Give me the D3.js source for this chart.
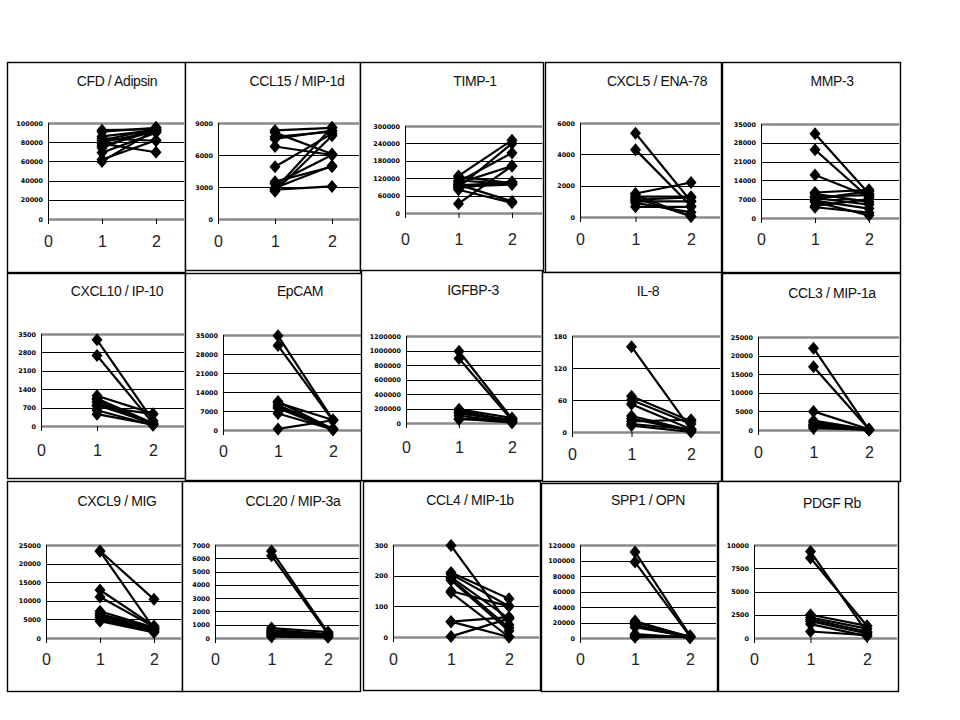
<!DOCTYPE html>
<html>
<head>
<meta charset="utf-8">
<script src="https://cdn.jsdelivr.net/npm/d3@7"></script>
<style>
  html, body { margin: 0; padding: 0; background: #fff; }
  svg { display: block; }
</style>
</head>
<body>
<svg id="chart" width="960" height="720"></svg>
<script>
// ---------------- DATA ----------------
const titles = ["CFD / Adipsin", "CCL15 / MIP-1d", "TIMP-1", "CXCL5 / ENA-78", "MMP-3",
  "CXCL10 / IP-10", "EpCAM", "IGFBP-3", "IL-8", "CCL3 / MIP-1a",
  "CXCL9 / MIG", "CCL20 / MIP-3a", "CCL4 / MIP-1b", "SPP1 / OPN", "PDGF Rb"];

const yMax  = [100000, 9000, 300000, 6000, 35000, 3500, 35000, 1200000, 180, 25000, 25000, 7000, 300, 120000, 10000];
const yStep = [20000, 3000, 60000, 2000, 7000, 700, 7000, 200000, 60, 5000, 5000, 1000, 100, 20000, 2500];

const xTicks = [0, 1, 2];

// value of each subject at time point 1
const time1 = [
  [92500, 91000, 84000, 82000, 80000, 78500, 76000, 74000, 69000, 62000, 60000, 86000],
  [8300, 8100, 7700, 6800, 4900, 3500, 3300, 2800, 2600, 2750, 2900, 7500],
  [128000, 125000, 108000, 103000, 98000, 95000, 91000, 86000, 80000, 32000, 112000, 88000],
  [5350, 4300, 1500, 1300, 1200, 1100, 1000, 650, 1400, 900],
  [31400, 25400, 16000, 9500, 9000, 8000, 7500, 7000, 6500, 6000, 4500, 4000],
  [3280, 2680, 1150, 1050, 1000, 900, 800, 760, 600, 450],
  [34700, 31100, 10500, 10000, 9200, 8500, 8000, 6100, 400],
  [990000, 890000, 190000, 170000, 150000, 130000, 100000, 60000, 50000],
  [160, 67, 60, 52, 30, 25, 20, 15, 12],
  [22000, 17000, 5000, 2500, 2000, 1500, 1200, 800, 500],
  [23400, 23300, 12900, 11000, 7200, 6500, 6000, 5500, 5000, 4500],
  [6550, 6200, 750, 600, 500, 400, 300, 200, 100],
  [298, 210, 205, 195, 190, 185, 150, 145, 50, 50, 2],
  [111000, 98000, 22000, 20000, 17000, 14000, 5000, 3000, 1000],
  [9300, 8600, 2500, 2200, 2000, 1800, 1500, 700]
];
// value of each subject at time point 2
const time2 = [
  [93500, 95000, 81500, 94000, 91000, 69500, 92000, 95500, 90000, 82000, 93000, 92500],
  [8550, 6100, 8200, 6000, 8000, 4900, 6000, 8600, 7800, 3050, 5000, 8300],
  [251000, 103000, 207000, 162000, 40000, 105000, 98000, 108000, 35000, 162000, 100000, 240000],
  [1000, 700, 2200, 1300, 50, 1250, 1000, 650, 30, 300],
  [9000, 7500, 8000, 10500, 6000, 8500, 5000, 10000, 3500, 1000, 7000, 2000],
  [200, 100, 470, 100, 60, 50, 100, 450, 30, 50],
  [3700, 3500, 300, 3700, 200, 500, 100, 200, 3600],
  [60000, 40000, 70000, 30000, 20000, 40000, 10000, 5000, 60000],
  [5, 20, 15, 5, 3, 2, 23, 5, 0],
  [100, 200, 200, 100, 100, 50, 50, 0, 100],
  [10400, 2500, 3200, 3000, 2800, 2500, 2000, 2200, 1800, 1500],
  [400, 300, 450, 300, 250, 100, 200, 100, 50],
  [40, 125, 100, 60, 30, 20, 100, 0, 0, 65, 60],
  [3000, 2000, 1000, 2000, 500, 1500, 500, 1000, 2000],
  [600, 1300, 1300, 1000, 700, 500, 200, 300]
];

// ---------------- LAYOUT ----------------
// box: [x0,y0,x1,y1]; L: y-axis x; X2: x of value 2; T: top of plot; Z: zero line; tx,ty: title centre; ly: x-label centre
const layout = [
  {box:[7,62,185,272],   L:48,  X2:156, T:123, Z:219, tx:117, ty:81,  ly:242},
  {box:[185,62,360,270], L:218, X2:332, T:123, Z:219, tx:297, ty:81,  ly:242},
  {box:[360,62,543,272], L:405, X2:512, T:126, Z:213, tx:475, ty:81,  ly:240},
  {box:[545,62,721,272], L:580, X2:691, T:123, Z:217, tx:657, ty:81,  ly:240},
  {box:[722,62,900,272], L:761, X2:869, T:124, Z:218, tx:832, ty:81,  ly:240},
  {box:[7,273,185,478],  L:41,  X2:153, T:334, Z:426, tx:117, ty:291, ly:451},
  {box:[185,273,362,480],L:223, X2:333, T:335, Z:430, tx:300, ty:291, ly:452},
  {box:[361,270,542,480],L:406, X2:512, T:336, Z:423, tx:473, ty:290, ly:448},
  {box:[542,272,721,481],L:572, X2:691, T:336, Z:432, tx:648, ty:291, ly:455},
  {box:[722,273,900,481],L:758, X2:869, T:337, Z:430, tx:832, ty:293, ly:453},
  {box:[7,481,182,691],  L:46,  X2:154, T:545, Z:638, tx:117, ty:501, ly:660},
  {box:[182,481,360,691],L:215, X2:328, T:545, Z:638, tx:293, ty:501, ly:660},
  {box:[363,481,540,690],L:393, X2:509, T:545, Z:637, tx:470, ty:500, ly:660},
  {box:[541,483,717,691],L:580, X2:690, T:545, Z:638, tx:648, ty:500, ly:660},
  {box:[718,481,898,691],L:754, X2:867, T:545, Z:638, tx:832, ty:503, ly:660}
];

const svg = d3.select("#chart");
svg.append("rect").attr("width", 960).attr("height", 720).attr("fill", "#fff");

const diamond = "M0,-6.5L5.5,0L0,6.5L-5.5,0Z";

titles.forEach((title, i) => {
  const lay = layout[i];
  const [bx0, by0, bx1, by1] = lay.box;
  const g = svg.append("g");

  // panel frame
  g.append("rect")
    .attr("x", bx0 + 0.5).attr("y", by0 + 0.5)
    .attr("width", bx1 - bx0).attr("height", by1 - by0)
    .attr("fill", "#fff").attr("stroke", "#000").attr("stroke-width", 1.4);

  const x = d3.scaleLinear().domain([0, 2]).range([lay.L, lay.X2]);
  const y = d3.scaleLinear().domain([0, yMax[i]]).range([lay.Z, lay.T]);
  const ticks = d3.range(0, yMax[i] + yStep[i] / 2, yStep[i]);
  const gridRight = bx1 - 1;

  // gridlines
  g.selectAll("line.grid").data(ticks).join("line")
    .attr("x1", lay.L).attr("x2", gridRight)
    .attr("y1", d => Math.round(y(d)) + 0.5).attr("y2", d => Math.round(y(d)) + 0.5)
    .attr("stroke", d => (d === 0 || d === ticks[ticks.length - 1]) ? "#8a8a8a" : "#000")
    .attr("stroke-width", d => (d === 0 || d === ticks[ticks.length - 1]) ? 2.5 : 1);

  // y axis (labels only)
  const yAxis = d3.axisLeft(y).tickValues(ticks).tickSize(0).tickPadding(5).tickFormat(d3.format("d"));
  const ya = g.append("g").attr("transform", `translate(${lay.L},0)`).call(yAxis);
  ya.select(".domain").remove();
  ya.selectAll("text")
    .attr("font-family", "'DejaVu Sans', sans-serif")
    .attr("font-size", 6.4).attr("font-weight", "bold").attr("fill", "#000");

  // vertical axis line
  g.append("line")
    .attr("x1", lay.L + 0.5).attr("x2", lay.L + 0.5)
    .attr("y1", lay.T).attr("y2", lay.Z + 5)
    .attr("stroke", "#000").attr("stroke-width", 1);

  // x axis
  const xAxis = d3.axisBottom(x).tickValues(xTicks).tickSize(5)
    .tickPadding(Math.max(2, lay.ly - lay.Z - 11)).tickFormat(d3.format("d"));
  const xa = g.append("g").attr("transform", `translate(0,${lay.Z})`).call(xAxis);
  xa.select(".domain").remove();
  xa.selectAll(".tick line").attr("stroke", "#000");
  xa.selectAll("text")
    .attr("font-family", "'Liberation Sans Narrow', 'Liberation Sans', sans-serif")
    .attr("font-size", 16).attr("fill", "#222");

  // title
  g.append("text")
    .attr("x", lay.tx).attr("y", lay.ty)
    .attr("text-anchor", "middle").attr("dominant-baseline", "central")
    .attr("font-family", "'Liberation Sans', Arial, sans-serif")
    .attr("font-size", 14).attr("letter-spacing", -0.4).attr("fill", "#111")
    .text(title);

  // series
  const series = time1[i].map((v, k) => [[1, v], [2, time2[i][k]]]);
  const line = d3.line().x(d => x(d[0])).y(d => y(d[1]));
  g.selectAll("path.series").data(series).join("path")
    .attr("d", line).attr("fill", "none")
    .attr("stroke", "#000").attr("stroke-width", 2.2);

  const pts = series.flat();
  g.selectAll("path.mark").data(pts).join("path")
    .attr("transform", d => `translate(${x(d[0])},${y(d[1])})`)
    .attr("d", diamond).attr("fill", "#000");
});
</script>
</body>
</html>
